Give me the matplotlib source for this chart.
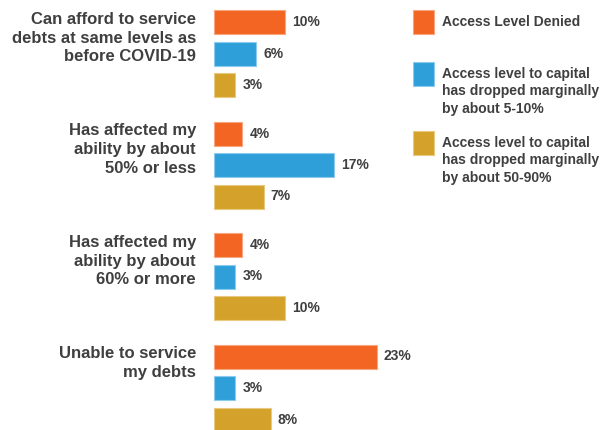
import matplotlib.pyplot as plt
from matplotlib.patches import Rectangle

plt.rcParams["font.family"] = ["Liberation Sans", "DejaVu Sans"]

categories = [
    "Can afford to service\ndebts at same levels as\nbefore COVID-19",
    "Has affected my\nability by about\n50% or less",
    "Has affected my\nability by about\n60% or more",
    "Unable to service\nmy debts",
]
series_names = [
    "Access Level Denied",
    "Access level to capital\nhas dropped marginally\nby about 5-10%",
    "Access level to capital\nhas dropped marginally\nby about 50-90%",
]
denied = [10, 4, 4, 23]
drop_5_10 = [6, 17, 3, 3]
drop_50_90 = [3, 7, 10, 8]

colors = ["#F26522", "#2E9FD9", "#D4A22B"]
edges = ["#F9A57E", "#8CCBEE", "#E8C980"]
text_color = "#3F3F3F"

W, H = 600, 430
PX_PER_PCT = 7.08
GROUP_STEP = 111.5
BAR_STEP = 31.5
FIRST_Y = 22
BAR_H = 24

fig = plt.figure(figsize=(W / 100, H / 100), dpi=100)
x0 = 214
ax = fig.add_axes([x0 / W, 0, (W - x0) / W, 1])
ax.set_xlim(0, (W - x0) / PX_PER_PCT)
ax.set_ylim(H, 0)
ax.axis("off")

for s, values in enumerate([denied, drop_5_10, drop_50_90]):
    ys = [FIRST_Y + g * GROUP_STEP + s * BAR_STEP for g in range(len(values))]
    ax.barh(ys, values, height=BAR_H, color=colors[s], edgecolor=edges[s],
            linewidth=0.8, clip_on=False)
    for y, v in zip(ys, values):
        ax.text(v + 7 / PX_PER_PCT, y, f"{v}%", ha="left", va="center",
                fontsize=10, fontweight="bold", color=text_color)

for g, label in enumerate(categories):
    y = FIRST_Y + g * GROUP_STEP - 10
    ax.text(-18 / PX_PER_PCT, y, label, ha="right", va="top", fontsize=12,
            fontweight="bold", color=text_color, linespacing=1.3)

# legend on the right, drawn by hand
leg_tops = [10, 62, 131]
for name, c, e, top in zip(series_names, colors, edges, leg_tops):
    fig.patches.append(Rectangle((413 / W, 1 - (top + 24) / H), 21 / W, 24 / H,
                                 transform=fig.transFigure, facecolor=c,
                                 edgecolor=e, linewidth=0.8))
    fig.text(442 / W, 1 - (top + 5) / H, name, ha="left", va="top",
             fontsize=10, fontweight="bold", color=text_color, linespacing=1.3)

fig.savefig("out.png", dpi=100)
